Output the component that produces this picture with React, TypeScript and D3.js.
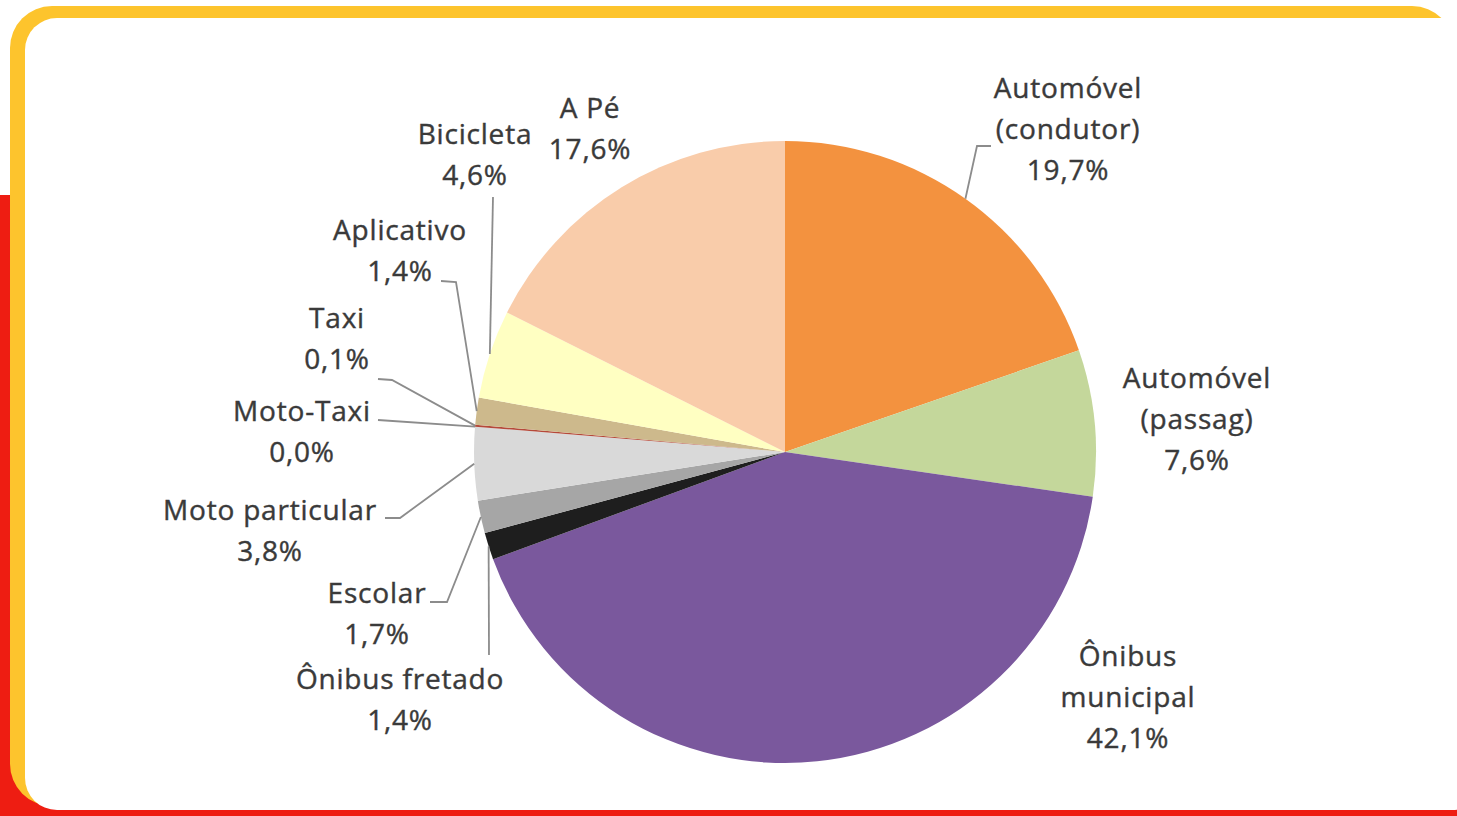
import React, { useEffect, useRef } from 'react';
import * as d3 from 'd3';

// modes of transport, clockwise from 12 o'clock
const categories = [
    'Automóvel (condutor)',
    'Automóvel (passag)',
    'Ônibus municipal',
    'Ônibus fretado',
    'Escolar',
    'Moto particular',
    'Moto-Taxi',
    'Taxi',
    'Aplicativo',
    'Bicicleta',
    'A Pé',
];
const shares = [19.7, 7.6, 42.1, 1.4, 1.7, 3.8, 0.0, 0.1, 1.4, 4.6, 17.6];
const labelLines = [
    ['Automóvel', '(condutor)', '19,7%'],
    ['Automóvel', '(passag)', '7,6%'],
    ['Ônibus', 'municipal', '42,1%'],
    ['Ônibus fretado', '1,4%'],
    ['Escolar', '1,7%'],
    ['Moto particular', '3,8%'],
    ['Moto-Taxi', '0,0%'],
    ['Taxi', '0,1%'],
    ['Aplicativo', '1,4%'],
    ['Bicicleta', '4,6%'],
    ['A Pé', '17,6%'],
];
const colors = [
    '#F3923F', '#C4D79B', '#7A589D', '#1E1E1E', '#A6A6A6', '#D9D9D9',
    '#8B3A2E', '#B5493A', '#CDB98C', '#FFFFC2', '#F9CCAA',
];

// label placement: x centre, first baseline, leader points (label side -> elbow)
const labelLayout: { x: number; y: number; leader: [number, number][] | null }[] = [
    { x: 1068, y: 98, leader: [[991, 146], [977, 146]] },
    { x: 1197, y: 388, leader: null },
    { x: 1128, y: 666, leader: null },
    { x: 400, y: 689, leader: [[489, 655]] },
    { x: 377, y: 603, leader: [[430, 602], [447, 602]] },
    { x: 270, y: 520, leader: [[385, 518], [400, 518]] },
    { x: 302, y: 421, leader: [[378, 420]] },
    { x: 337, y: 328, leader: [[378, 379], [392, 380]] },
    { x: 400, y: 240, leader: [[441, 281], [456, 282]] },
    { x: 475, y: 144, leader: [[493, 197]] },
    { x: 590, y: 118, leader: null },
];

const W = 1457;
const H = 816;

const App: React.FC = () => {
    const ref = useRef<SVGSVGElement | null>(null);

    useEffect(() => {
        const svg = d3.select(ref.current);
        svg.selectAll('*').remove();

        // frame
        svg.append('rect').attr('width', W).attr('height', H).attr('fill', '#ffffff');
        svg.append('path')
            .attr('d', `M0,195 L30,195 L30,790 L1457,790 L1457,${H} L0,${H} Z`)
            .attr('fill', '#EE1D12');
        svg.append('path')
            .attr('d', 'M1440,22 L1457,22 L1457,50 Z')
            .attr('fill', '#EE1D12');
        svg.append('rect')
            .attr('x', 10).attr('y', 6)
            .attr('width', 1444).attr('height', 800)
            .attr('rx', 42)
            .attr('fill', '#FDC42D');
        svg.append('rect')
            .attr('x', 25).attr('y', 18)
            .attr('width', 1460).attr('height', 792)
            .attr('rx', 32)
            .attr('fill', '#ffffff');

        const cx = 785;
        const cy = 452;
        const r = 311;

        const pie = d3.pie<number>().sort(null).value(d => d);
        const arcs = pie(shares);
        const arc = d3.arc<d3.PieArcDatum<number>>().innerRadius(0).outerRadius(r);

        const g = svg.append('g').attr('transform', `translate(${cx},${cy})`);
        g.selectAll('path.slice')
            .data(arcs)
            .enter()
            .append('path')
            .attr('class', 'slice')
            .attr('d', arc)
            .attr('fill', (_, i) => colors[i]);

        // leader lines
        arcs.forEach((a, i) => {
            const lay = labelLayout[i];
            if (!lay.leader) return;
            const mid = (a.startAngle + a.endAngle) / 2;
            const px = cx + r * Math.sin(mid);
            const py = cy - r * Math.cos(mid);
            const pts: [number, number][] = [...lay.leader, [px, py]];
            svg.append('path')
                .attr('d', d3.line()(pts))
                .attr('fill', 'none')
                .attr('stroke', '#8C8C8C')
                .attr('stroke-width', 1.8);
        });

        // labels
        labelLayout.forEach((lay, i) => {
            const t = svg.append('text')
                .attr('x', lay.x)
                .attr('y', lay.y)
                .attr('text-anchor', 'middle')
                .attr('font-family', '"Open Sans", sans-serif')
                .attr('font-size', 28)
                .attr('letter-spacing', 0.8)
                .attr('fill', '#3a3a3a')
                .attr('stroke', '#3a3a3a')
                .attr('stroke-width', 0.4);
            labelLines[i].forEach((line, j) => {
                t.append('tspan')
                    .attr('x', lay.x)
                    .attr('dy', j === 0 ? 0 : 41)
                    .text(line);
            });
        });
    }, []);

    return (
        <svg
            ref={ref}
            width={W}
            height={H}
            style={{ position: 'absolute', left: 0, top: 0, display: 'block' }}
        />
    );
};

export default App;
